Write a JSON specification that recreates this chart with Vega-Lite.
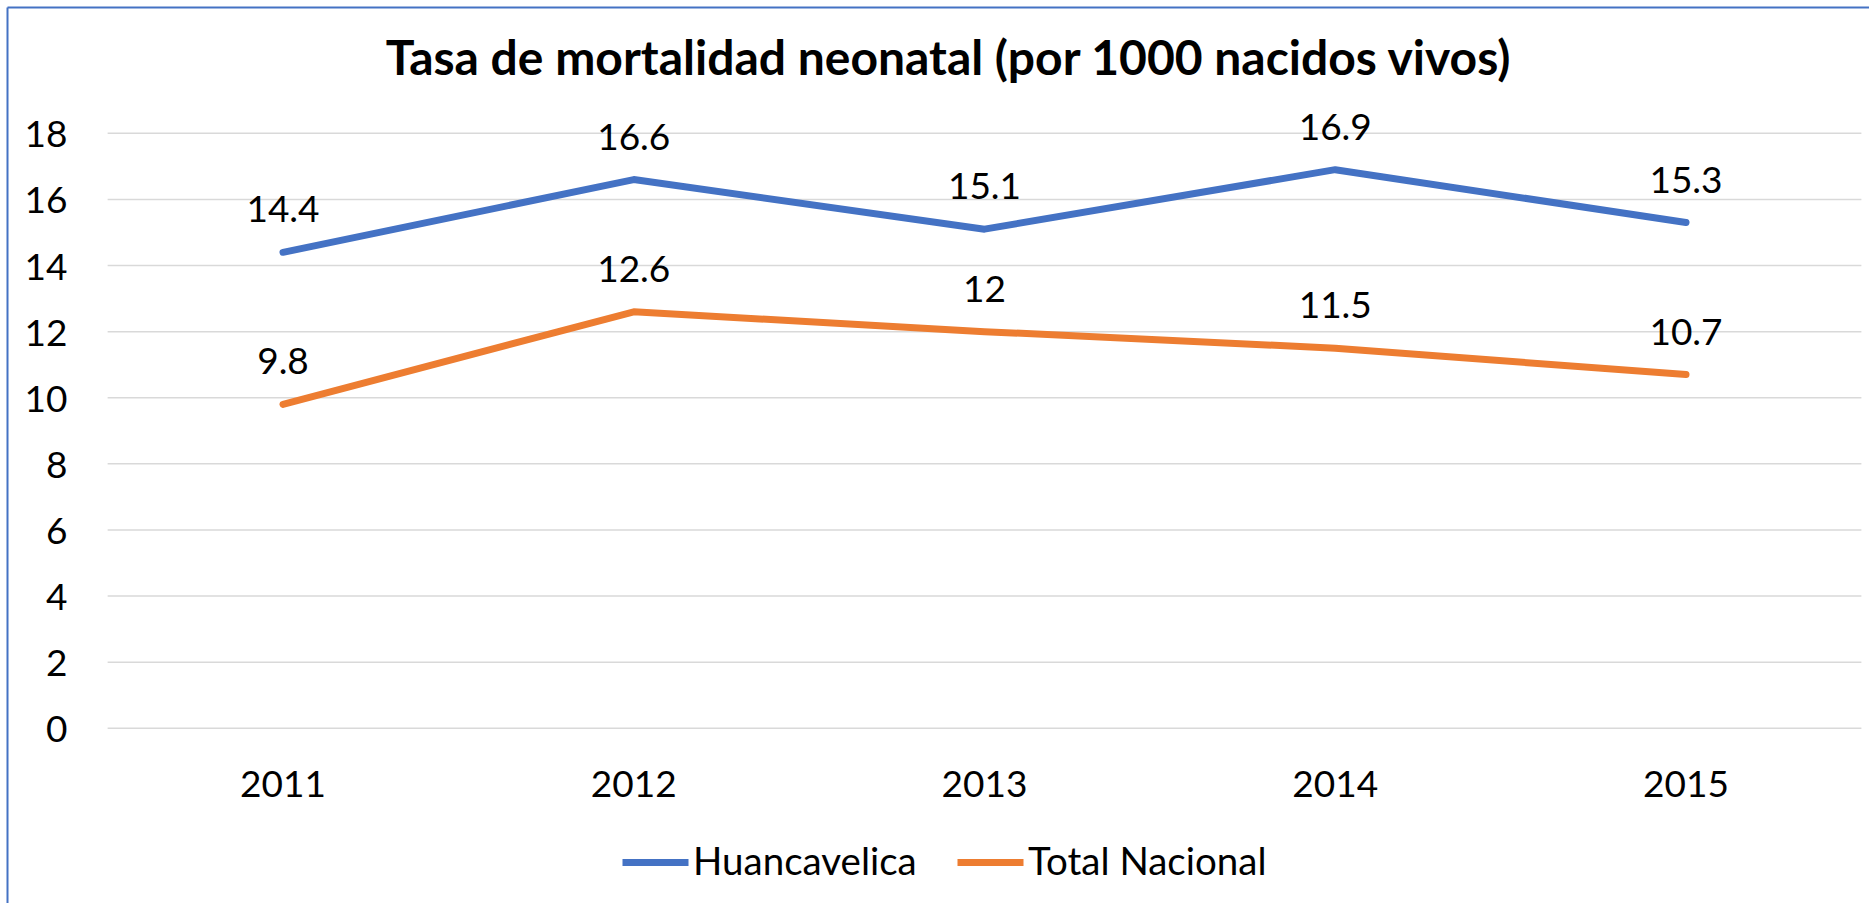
{
  "$schema": "https://vega.github.io/schema/vega-lite/v6.json",
  "width": 1862,
  "height": 896,
  "autosize": {"type": "none"},
  "padding": {"left": 7, "top": 7, "right": 0, "bottom": 0},
  "background": "white",
  "title": {
    "text": "Tasa de mortalidad neonatal (por 1000 nacidos vivos)",
    "font": "Lato",
    "fontSize": 48,
    "fontWeight": "bold",
    "color": "#000000",
    "anchor": "middle",
    "frame": "group",
    "baseline": "alphabetic",
    "offset": -116,
    "dx": 10
  },
  "config": {"view": {"stroke": null}, "font": "Lato"},
  "data": {
    "values": [
      {"series": "Huancavelica", "year": 2011, "value": 14.4},
      {"series": "Huancavelica", "year": 2012, "value": 16.6},
      {"series": "Huancavelica", "year": 2013, "value": 15.1},
      {"series": "Huancavelica", "year": 2014, "value": 16.9},
      {"series": "Huancavelica", "year": 2015, "value": 15.3},
      {"series": "Total Nacional", "year": 2011, "value": 9.8},
      {"series": "Total Nacional", "year": 2012, "value": 12.6},
      {"series": "Total Nacional", "year": 2013, "value": 12},
      {"series": "Total Nacional", "year": 2014, "value": 11.5},
      {"series": "Total Nacional", "year": 2015, "value": 10.7}
    ]
  },
  "layer": [
    {
      "data": {"values": [{"g": 0}, {"g": 2}, {"g": 4}, {"g": 6}, {"g": 8}, {"g": 10}, {"g": 12}, {"g": 14}, {"g": 16}, {"g": 18}]},
      "mark": {"type": "rule", "color": "#D9D9D9", "strokeWidth": 1.5},
      "encoding": {
        "y": {
          "field": "g",
          "type": "quantitative",
          "title": null,
          "scale": {"domain": [-5.285, 21.821], "nice": false, "zero": false},
          "axis": {
            "orient": "left",
            "values": [0, 2, 4, 6, 8, 10, 12, 14, 16, 18],
            "grid": false,
            "ticks": false,
            "tickSize": 0,
            "domain": true,
            "domainColor": "#4472C4",
            "domainWidth": 2,
            "labelFont": "Lato",
            "labelFontSize": 37,
            "labelColor": "#000000",
            "labelPadding": -60,
            "labelAlign": "right",
            "labelBaseline": "alphabetic",
            "labelOffset": 13.5,
            "labelFlush": false,
            "labelOverlap": false,
            "labelBound": false,
            "title": null
          }
        },
        "x": {
          "datum": 2010.5,
          "type": "quantitative",
          "title": null,
          "scale": {"domain": [2010.2131, 2015.5217], "nice": false, "zero": false},
          "axis": {
            "orient": "top",
            "grid": false,
            "ticks": false,
            "labels": false,
            "domain": true,
            "domainColor": "#4472C4",
            "domainWidth": 2,
            "title": null
          }
        },
        "x2": {"datum": 2015.5}
      }
    },
    {
      "mark": {"type": "line", "strokeWidth": 7, "strokeCap": "round", "strokeJoin": "round"},
      "encoding": {
        "x": {"field": "year", "type": "quantitative", "title": null},
        "y": {"field": "value", "type": "quantitative", "title": null},
        "color": {
          "field": "series",
          "type": "nominal",
          "scale": {"domain": ["Huancavelica", "Total Nacional"], "range": ["#4472C4", "#ED7D31"]},
          "legend": {
            "orient": "none",
            "legendX": 612,
            "legendY": 819,
            "direction": "horizontal",
            "title": null,
            "symbolType": "stroke",
            "symbolSize": 4356,
            "symbolStrokeWidth": 7,
            "labelFont": "Lato",
            "labelFontSize": 38.5,
            "labelColor": "#000000",
            "labelOffset": 1,
            "columnPadding": 26,
            "labelLimit": 0
          }
        }
      }
    },
    {
      "mark": {"type": "text", "dy": -30, "baseline": "alphabetic", "align": "center", "fontSize": 37, "font": "Lato", "color": "#000000"},
      "encoding": {
        "x": {"field": "year", "type": "quantitative", "title": null},
        "y": {"field": "value", "type": "quantitative", "title": null},
        "text": {"field": "value", "type": "quantitative", "format": ".1~f"}
      }
    },
    {
      "transform": [{"filter": "datum.series === 'Huancavelica'"}],
      "mark": {"type": "text", "baseline": "alphabetic", "align": "center", "fontSize": 37, "font": "Lato", "color": "#000000"},
      "encoding": {
        "x": {"field": "year", "type": "quantitative", "title": null},
        "y": {"datum": -2.08, "type": "quantitative", "title": null},
        "text": {"field": "year", "type": "ordinal"}
      }
    }
  ]
}
